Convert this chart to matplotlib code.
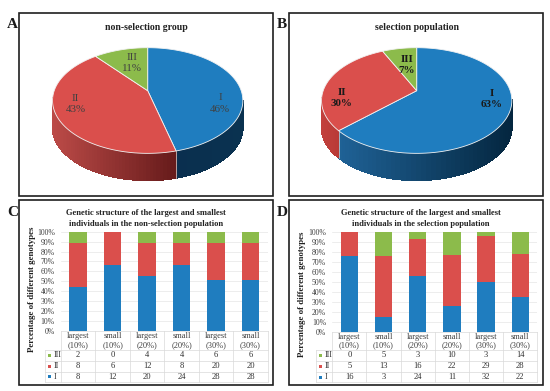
import numpy as np
import matplotlib
matplotlib.use("Agg")
import matplotlib.pyplot as plt
from matplotlib.colors import to_rgb
from matplotlib.patches import Polygon, Rectangle

W, H = 550, 391
plt.rcParams["font.family"] = ["Liberation Serif", "DejaVu Serif"]

BLUE, RED, GREEN = "#1f7dbf", "#da4f4c", "#8cbb4b"

GENOTYPES = ["I", "II", "III"]
PIE_A = [46, 43, 11]
PIE_B = [63, 30, 7]

GROUPS = ["largest\n(10%)", "small\n(10%)", "largest\n(20%)",
          "small\n(20%)", "largest\n(30%)", "small\n(30%)"]
C_I = [8, 12, 20, 24, 28, 28]
C_II = [8, 6, 12, 8, 20, 20]
C_III = [2, 0, 4, 4, 6, 6]
D_I = [16, 3, 24, 11, 32, 22]
D_II = [5, 13, 16, 22, 29, 28]
D_III = [0, 5, 3, 10, 3, 14]

PCT_TICKS = list(range(0, 101, 10))
PERSP = 0.186


def project(theta, cx, cy, rx, ry):
    # clockwise from the top, back of the disc is squeezed a bit
    u, v = np.sin(theta), np.cos(theta)
    w = 1 + PERSP * v
    return cx + rx * u / w, cy - ry * v / w


def draw_pie(ax, vals, cx, cy, shades, labels, weight, txtcol):
    rx, ry, depth = 93.5, 51, 27
    cols = [BLUE, RED, GREEN]
    edges = np.cumsum([0] + vals) / sum(vals) * 2 * np.pi
    # side wall
    for i in range(3):
        th = np.linspace(edges[i], edges[i + 1], 90)
        x, y = project(th, cx, cy, rx, ry)
        front = np.cos(th) < -0.15
        if not front.any():
            continue
        c0, c1 = np.array(to_rgb(shades[i][0])), np.array(to_rgb(shades[i][1]))
        xmin, xmax = x[front].min(), x[front].max()
        for j in range(len(th) - 1):
            if not front[j]:
                continue
            t = (0.5 * (x[j] + x[j + 1]) - xmin) / max(xmax - xmin, 1)
            col = c0 + (c1 - c0) * t
            ax.add_patch(Polygon([(x[j], y[j]), (x[j + 1], y[j + 1]),
                                  (x[j + 1], y[j + 1] + depth), (x[j], y[j] + depth)],
                                 fc=col, ec=col, lw=0.5, antialiased=False, zorder=2))
    # light seam where two wedges meet on the wall
    for e in edges[:3]:
        ex, ey = project(e, cx, cy, rx, ry)
        if np.cos(e) < 0:
            ax.plot([ex, ex], [ey, ey + depth], color="#d8d8d8", lw=0.5, zorder=2.5)
    # top surface
    for i in range(3):
        th = np.linspace(edges[i], edges[i + 1], 120)
        x, y = project(th, cx, cy, rx, ry)
        pts = [(cx, cy)] + list(zip(x, y))
        ax.add_patch(Polygon(pts, fc=cols[i], ec="#f2f2f2", lw=0.6, zorder=3))
    for i, (lx, ly) in enumerate(labels):
        ax.text(lx, ly, f"{GENOTYPES[i]}\n{vals[i]}%", ha="center", va="center",
                fontsize=7.9, color=txtcol, fontweight=weight, linespacing=1.35, zorder=4)


def draw_stack(fig, over, left, right, top, bottom, i_v, ii_v, iii_v, key_left, rows, ylab_x, ylab_y):
    ax = fig.add_axes([left / W, 1 - bottom / H, (right - left) / W, (bottom - top) / H])
    a, b, c = np.array(i_v, float), np.array(ii_v, float), np.array(iii_v, float)
    tot = a + b + c
    pos = np.arange(len(GROUPS))
    ax.bar(pos, a / tot * 100, 0.51, color=BLUE, zorder=3)
    ax.bar(pos, b / tot * 100, 0.51, bottom=a / tot * 100, color=RED, zorder=3)
    ax.bar(pos, c / tot * 100, 0.51, bottom=(a + b) / tot * 100, color=GREEN, zorder=3)
    ax.set_xlim(-0.5, 5.5)
    ax.set_ylim(0, 100)
    ax.set_yticks(PCT_TICKS)
    ax.set_yticklabels([f"{t}%" for t in PCT_TICKS], fontsize=5.6, color="#404040")
    ax.set_xticks([])
    ax.tick_params(length=0, pad=4.5)
    ax.grid(axis="y", color="#e6e6e6", lw=0.5, zorder=0)
    for s in ax.spines.values():
        s.set_visible(False)
    ax.patch.set_alpha(0)

    # data table under the plot
    cw = (right - left) / len(GROUPS)
    line = dict(color="#d9d9d9", lw=0.5, zorder=3)
    for k in range(len(GROUPS) + 1):
        xk = left + k * cw
        over.plot([xk, xk], [bottom, rows[-1]], **line)
    over.plot([key_left, key_left], [rows[1], rows[-1]], **line)
    for n, r in enumerate(rows):
        over.plot([left if n == 0 else key_left, right], [r, r], **line)
    for k, g in enumerate(GROUPS):
        over.text(left + (k + 0.5) * cw, (rows[0] + rows[1]) / 2, g, ha="center", va="center",
                  fontsize=6, color="#404040", linespacing=1.1, zorder=4)
    table = [(iii_v, GREEN, "III"), (ii_v, RED, "II"), (i_v, BLUE, "I")]
    for n, (vals, col, name) in enumerate(table):
        ym = (rows[n + 1] + rows[n + 2]) / 2
        over.add_patch(Rectangle((key_left + 3, ym - 1.5), 3, 3, fc=col, ec="none", zorder=4))
        over.text(key_left + 8.5, ym, name, ha="left", va="center", fontsize=5.8,
                  color="#303030", zorder=4)
        for k, v in enumerate(vals):
            over.text(left + (k + 0.5) * cw, ym, str(v), ha="center", va="center",
                      fontsize=6.1, color="#303030", zorder=4)
    over.text(ylab_x, ylab_y, "Percentage of different genotypes", rotation=90,
              ha="center", va="center", fontsize=6.4, fontweight="bold", color="#222222", zorder=4)
    return ax


def main():
    fig = plt.figure(figsize=(W / 100, H / 100), dpi=100, facecolor="white")
    over = fig.add_axes([0, 0, 1, 1], zorder=5)
    over.set_xlim(0, W)
    over.set_ylim(H, 0)
    over.axis("off")
    over.patch.set_alpha(0)

    for x0, y0, x1, y1 in [(19, 13, 273, 196), (289, 13, 543, 196),
                           (19, 200, 273, 385), (289, 200, 543, 385)]:
        over.add_patch(Rectangle((x0, y0), x1 - x0, y1 - y0, fc="none", ec="#1f1f1f", lw=1.2, zorder=1))
    for letter, lx, ly in [("A", 12.5, 24), ("B", 282, 24), ("C", 12.5, 213), ("D", 282, 212)]:
        over.text(lx, ly, letter, ha="center", va="center", fontsize=11, fontweight="bold", color="#1a1a1a")

    over.text(146.5, 27.5, "non-selection group", ha="center", va="center", fontsize=7.1, fontweight="bold", color="#222222")
    over.text(417, 27.5, "selection population", ha="center", va="center", fontsize=7.1, fontweight="bold", color="#222222")

    draw_pie(over, PIE_A, 147.7, 90.7,
             [("#0a2f4f", "#0a3250"), ("#bb4a47", "#651a1a"), (GREEN, GREEN)],
             [(220, 103.5), (75.5, 104), (131.5, 63)], "normal", "#404040")
    draw_pie(over, PIE_B, 416.7, 90.7,
             [("#1f6296", "#04263f"), ("#c2403c", "#b83a36"), (GREEN, GREEN)],
             [(492, 99), (341.5, 98), (407, 65)], "bold", "#1a1a1a")

    over.text(146, 218.5, "Genetic structure of the largest and smallest\nindividuals in the non-selection population",
              ha="center", va="center", fontsize=6.1, fontweight="bold", color="#222222", linespacing=1.4)
    over.text(421, 218.5, "Genetic structure of the largest and smallest\nindividuals in the selection population",
              ha="center", va="center", fontsize=6.1, fontweight="bold", color="#222222", linespacing=1.4)

    draw_stack(fig, over, 61, 267.7, 231.7, 331, C_I, C_II, C_III, 45,
               [331, 350, 360.7, 371.7, 382], 31.7, 289)
    draw_stack(fig, over, 332.3, 537.3, 231.7, 331.7, D_I, D_II, D_III, 315.7,
               [331.7, 350, 360.7, 371.7, 382.3], 302, 294)

    fig.savefig("out.png", dpi=100)
    plt.close(fig)


if __name__ == "__main__":
    main()
